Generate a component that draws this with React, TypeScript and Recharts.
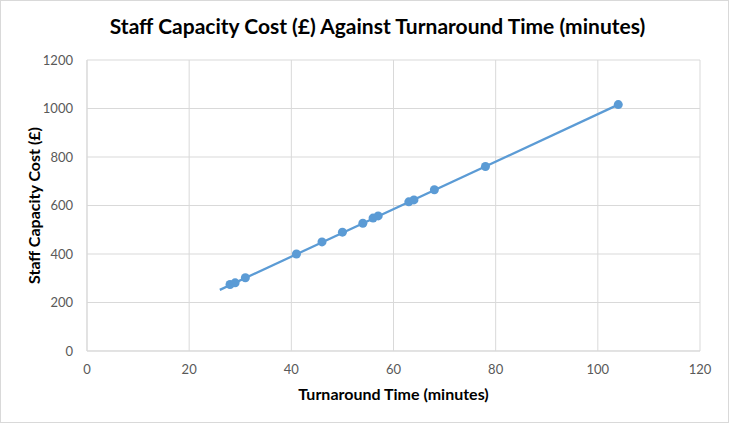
import { CartesianGrid, Label, Scatter, ScatterChart, XAxis, YAxis } from 'recharts';

const TURNAROUND_MINUTES = [28, 29, 31, 41, 46, 50, 54, 56, 57, 63, 64, 68, 78, 104];
const STAFF_COST = [274, 281, 302, 400, 450, 490, 527, 548, 557, 615, 623, 665, 761, 1016];
const TREND_X = [26, 104];
const TREND_Y = [252, 1016];
const X_TICKS = [0, 20, 40, 60, 80, 100, 120];
const Y_TICKS = [0, 200, 400, 600, 800, 1000, 1200];

const BLUE = '#5b9bd5';
const FONT = 'Lato, "Open Sans", sans-serif';

const points = TURNAROUND_MINUTES.map((x, i) => ({ x, y: STAFF_COST[i] }));
const trend = TREND_X.map((x, i) => ({ x, y: TREND_Y[i] }));

const tickStyle = { fill: '#595959', fontSize: 13, fontFamily: FONT };

export default function App() {
  return (
    <div
      style={{
        position: 'absolute',
        left: 0,
        top: 0,
        width: 729,
        height: 423,
        boxSizing: 'border-box',
        border: '1px solid #d9d9d9',
        background: '#fff',
      }}
    >
      <div
        style={{
          position: 'absolute',
          left: 12,
          top: 12,
          width: 729,
          textAlign: 'center',
          fontFamily: FONT,
          fontWeight: 700,
          fontSize: 21,
          color: '#000',
        }}
      >
        Staff Capacity Cost (£) Against Turnaround Time (minutes)
      </div>
      <div style={{ position: 'absolute', left: -1, top: -1 }}>
        <ScatterChart width={729} height={423} margin={{ top: 60, right: 29, bottom: 0, left: 0 }}>
          <CartesianGrid stroke="#d9d9d9" strokeWidth={1} />
          <XAxis
            type="number"
            dataKey="x"
            domain={[0, 120]}
            ticks={X_TICKS}
            height={72}
            axisLine={{ stroke: '#d9d9d9' }}
            tickLine={false}
            tickSize={0}
            tickMargin={14}
            tick={tickStyle}
          >
            <Label
              value="Turnaround Time (minutes)"
              position="insideBottom"
              offset={23}
              style={{ fontFamily: FONT, fontWeight: 700, fontSize: 16, fill: '#000' }}
            />
          </XAxis>
          <YAxis
            type="number"
            dataKey="y"
            domain={[0, 1200]}
            ticks={Y_TICKS}
            width={87}
            axisLine={{ stroke: '#d9d9d9' }}
            tickLine={false}
            tickSize={0}
            tickMargin={14}
            tick={tickStyle}
          >
            <Label
              value="Staff Capacity Cost (£)"
              angle={-90}
              position="insideLeft"
              offset={34}
              style={{ fontFamily: FONT, fontWeight: 700, fontSize: 16, fill: '#000', textAnchor: 'middle' }}
            />
          </YAxis>
          <Scatter
            data={trend}
            line={{ stroke: BLUE, strokeWidth: 2.25 }}
            shape={() => <g />}
            isAnimationActive={false}
          />
          <Scatter data={points} fill={BLUE} shape={(p: any) => <circle cx={p.cx} cy={p.cy} r={4.5} fill={BLUE} />} isAnimationActive={false} />
        </ScatterChart>
      </div>
    </div>
  );
}
